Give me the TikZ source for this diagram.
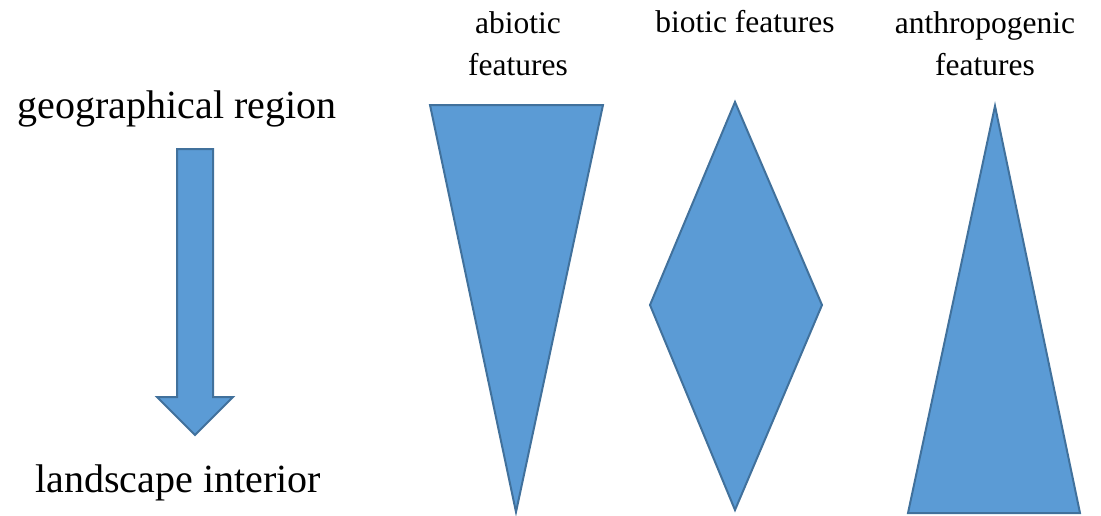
\documentclass[tikz,border=0pt]{standalone}
\usepackage{fontspec}
\setmainfont{Liberation Serif}
\begin{document}
\begin{tikzpicture}[x=1pt,y=-1pt,
  shp/.style={fill={rgb,255:red,91;green,155;blue,213},draw={rgb,255:red,65;green,113;blue,156},line width=2pt,line join=miter},
  big/.style={font=\fontsize{40}{44}\selectfont,inner sep=0pt},
  small/.style={font=\fontsize{31.5}{42}\selectfont,inner sep=0pt,align=center}]
\useasboundingbox (0,0) rectangle (1101,515);
\node[big] (geo) at (177,109) {geographical region};
\node[big] (land) at (178,483) {landscape interior};
\node[small] (abio) at (518,44) {abiotic\\features};
\node[small] (bio) at (745,22) {biotic features};
\node[small] (anth) at (985,44) {anthropogenic\\features};
\draw[shp] (177,149) -- (213,149) -- (213,397) -- (233,397) -- (195,435) -- (157,397) -- (177,397) -- cycle;
\draw[shp] (430,105) -- (603,105) -- (516,512) -- cycle;
\draw[shp] (735,102) -- (822,305) -- (735,510) -- (650,305) -- cycle;
\draw[shp] (995,106) -- (1080,513) -- (908,513) -- cycle;
\end{tikzpicture}
\end{document}
